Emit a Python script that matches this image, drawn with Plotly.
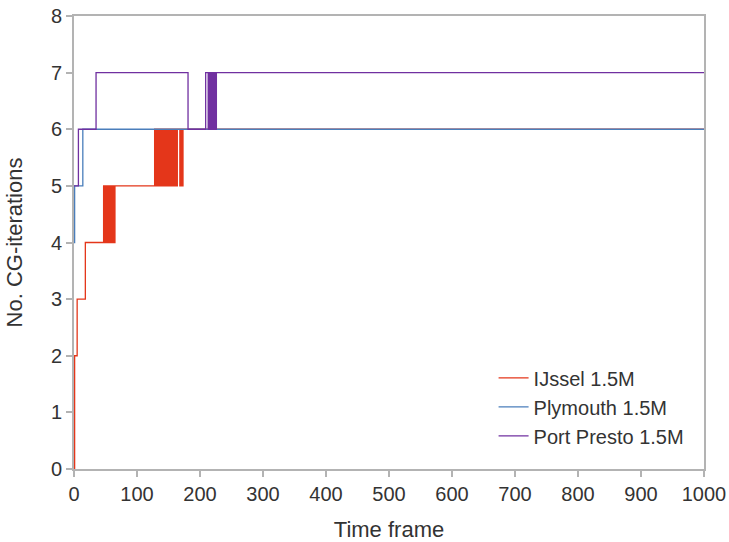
import plotly.graph_objects as go

# CG iteration counts per time frame, stored as change points (frame, iterations);
# each value holds until the next listed frame.
ijssel_frame = [0, 1, 5, 18,
                47, 48, 49, 50, 51, 52, 53, 54, 55, 56, 57, 58, 59, 60, 61, 62, 63, 64, 65,
                128, 129, 130, 131, 132, 133, 134, 135, 136, 137, 138, 139, 140, 141, 142,
                143, 144, 145, 146, 147, 148, 149, 150, 151, 152, 153, 154, 155, 156, 157,
                158, 159, 160, 161, 162, 163, 164,
                168, 169, 171, 173, 1000]
ijssel_cg = [0, 2, 3, 4,
             5, 4, 5, 4, 5, 4, 5, 4, 5, 4, 5, 4, 5, 4, 5, 4, 5, 4, 5,
             6, 5, 6, 5, 6, 5, 6, 5, 6, 5, 6, 5, 6, 5, 6,
             5, 6, 5, 6, 5, 6, 5, 6, 5, 6, 5, 6, 5, 6, 5,
             6, 5, 6, 5, 6, 5, 6,
             5, 6, 5, 6, 6]

plymouth_frame = [0, 1, 14, 1000]
plymouth_cg = [4, 5, 6, 6]

presto_frame = [0, 7, 35, 181, 209,
                213, 214, 215, 216, 217, 218, 219, 220, 221, 222, 223, 224, 225, 226,
                1000]
presto_cg = [5, 6, 7, 6, 7,
             6, 7, 6, 7, 6, 7, 6, 7, 6, 7, 6, 7, 6, 7,
             7]

series = [
    ("IJssel 1.5M", ijssel_frame, ijssel_cg, "#e4361a"),
    ("Plymouth 1.5M", plymouth_frame, plymouth_cg, "#4a7ebb"),
    ("Port Presto 1.5M", presto_frame, presto_cg, "#7030a0"),
]

x_ticks = [0, 100, 200, 300, 400, 500, 600, 700, 800, 900, 1000]
y_ticks = [0, 1, 2, 3, 4, 5, 6, 7, 8]

FONT = "Liberation Sans, Arial, sans-serif"
AXIS_GREY = "#b3b3b3"
TEXT = "#333333"

fig = go.Figure()
for name, frames, values, color in series:
    fig.add_trace(go.Scatter(
        x=frames, y=values, name=name, mode="lines",
        line=dict(color=color, width=1.3, shape="hv"),
    ))

fig.update_layout(
    width=729, height=542,
    margin=dict(l=74, r=25, t=16, b=73, autoexpand=False),
    plot_bgcolor="white", paper_bgcolor="white",
    font=dict(family=FONT, color=TEXT, size=20),
    showlegend=True,
    legend=dict(
        x=0.666, y=0.244, xanchor="left", yanchor="top",
        bgcolor="rgba(0,0,0,0)", font=dict(size=20, color=TEXT),
        itemwidth=30, tracegroupgap=0,
    ),
)

fig.update_xaxes(
    range=[0, 1000], tickvals=x_ticks, ticktext=[str(v) for v in x_ticks],
    showgrid=False, zeroline=False, automargin=False,
    showline=True, linecolor=AXIS_GREY, linewidth=2, mirror=True,
    ticks="outside", ticklen=6, tickcolor=AXIS_GREY, tickwidth=2,
    tickfont=dict(size=20, color=TEXT),
    title=dict(text="Time frame", font=dict(size=22, color=TEXT), standoff=22),
)
fig.update_yaxes(
    range=[0, 8], tickvals=y_ticks, ticktext=[str(v) for v in y_ticks],
    showgrid=False, zeroline=False, automargin=False,
    showline=True, linecolor=AXIS_GREY, linewidth=2, mirror=True,
    ticks="outside", ticklen=6, tickcolor=AXIS_GREY, tickwidth=2,
    tickfont=dict(size=20, color=TEXT),
    title=dict(text="No. CG-iterations", font=dict(size=22, color=TEXT), standoff=22),
)

fig.write_html("out.html")
